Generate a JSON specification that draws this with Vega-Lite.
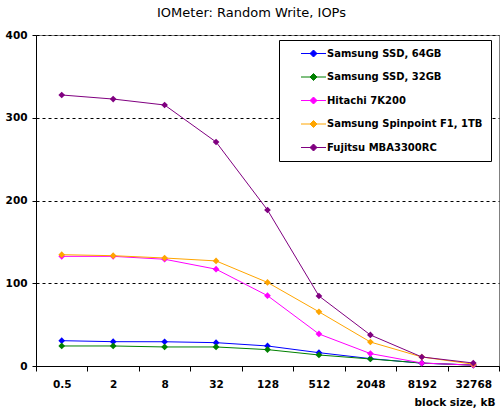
{
  "$schema": "https://vega.github.io/schema/vega-lite/v6.json",
  "width": 463,
  "height": 331,
  "autosize": {"type": "none"},
  "padding": {"left": 36, "top": 35, "right": 4, "bottom": 53},
  "background": "white",
  "title": {
    "text": "IOMeter: Random Write, IOPs",
    "font": "DejaVu Sans",
    "fontSize": 13,
    "fontWeight": "normal",
    "color": "black",
    "anchor": "middle",
    "dx": -16,
    "offset": 10
  },
  "config": {
    "view": {"stroke": "#808080", "strokeWidth": 1},
    "font": "DejaVu Sans"
  },
  "data": {
    "values": [
      {"size": "0.5", "drive": "Samsung SSD, 64GB", "iops": 30.6},
      {"size": "2", "drive": "Samsung SSD, 64GB", "iops": 29.4},
      {"size": "8", "drive": "Samsung SSD, 64GB", "iops": 29.3},
      {"size": "32", "drive": "Samsung SSD, 64GB", "iops": 28.2},
      {"size": "128", "drive": "Samsung SSD, 64GB", "iops": 24.2},
      {"size": "512", "drive": "Samsung SSD, 64GB", "iops": 16.1},
      {"size": "2048", "drive": "Samsung SSD, 64GB", "iops": 8.9},
      {"size": "8192", "drive": "Samsung SSD, 64GB", "iops": 3.4},
      {"size": "32768", "drive": "Samsung SSD, 64GB", "iops": 1.2},
      {"size": "0.5", "drive": "Samsung SSD, 32GB", "iops": 24.2},
      {"size": "2", "drive": "Samsung SSD, 32GB", "iops": 24.2},
      {"size": "8", "drive": "Samsung SSD, 32GB", "iops": 23.0},
      {"size": "32", "drive": "Samsung SSD, 32GB", "iops": 23.0},
      {"size": "128", "drive": "Samsung SSD, 32GB", "iops": 19.8},
      {"size": "512", "drive": "Samsung SSD, 32GB", "iops": 13.3},
      {"size": "2048", "drive": "Samsung SSD, 32GB", "iops": 8.5},
      {"size": "8192", "drive": "Samsung SSD, 32GB", "iops": 3.6},
      {"size": "32768", "drive": "Samsung SSD, 32GB", "iops": 1.0},
      {"size": "0.5", "drive": "Hitachi 7K200", "iops": 132.5},
      {"size": "2", "drive": "Hitachi 7K200", "iops": 132.5},
      {"size": "8", "drive": "Hitachi 7K200", "iops": 129.0},
      {"size": "32", "drive": "Hitachi 7K200", "iops": 117.0},
      {"size": "128", "drive": "Hitachi 7K200", "iops": 85.0},
      {"size": "512", "drive": "Hitachi 7K200", "iops": 38.7},
      {"size": "2048", "drive": "Hitachi 7K200", "iops": 15.0},
      {"size": "8192", "drive": "Hitachi 7K200", "iops": 3.6},
      {"size": "32768", "drive": "Hitachi 7K200", "iops": 1.0},
      {"size": "0.5", "drive": "Samsung Spinpoint F1, 1TB", "iops": 134.5},
      {"size": "2", "drive": "Samsung Spinpoint F1, 1TB", "iops": 133.3},
      {"size": "8", "drive": "Samsung Spinpoint F1, 1TB", "iops": 130.5},
      {"size": "32", "drive": "Samsung Spinpoint F1, 1TB", "iops": 127.0},
      {"size": "128", "drive": "Samsung Spinpoint F1, 1TB", "iops": 101.0},
      {"size": "512", "drive": "Samsung Spinpoint F1, 1TB", "iops": 65.5},
      {"size": "2048", "drive": "Samsung Spinpoint F1, 1TB", "iops": 29.0},
      {"size": "8192", "drive": "Samsung Spinpoint F1, 1TB", "iops": 10.9},
      {"size": "32768", "drive": "Samsung Spinpoint F1, 1TB", "iops": 2.2},
      {"size": "0.5", "drive": "Fujitsu MBA3300RC", "iops": 327.5},
      {"size": "2", "drive": "Fujitsu MBA3300RC", "iops": 322.6},
      {"size": "8", "drive": "Fujitsu MBA3300RC", "iops": 315.4},
      {"size": "32", "drive": "Fujitsu MBA3300RC", "iops": 270.7},
      {"size": "128", "drive": "Fujitsu MBA3300RC", "iops": 188.5},
      {"size": "512", "drive": "Fujitsu MBA3300RC", "iops": 84.6},
      {"size": "2048", "drive": "Fujitsu MBA3300RC", "iops": 37.5},
      {"size": "8192", "drive": "Fujitsu MBA3300RC", "iops": 10.9},
      {"size": "32768", "drive": "Fujitsu MBA3300RC", "iops": 3.6}
    ]
  },
  "encoding": {
    "x": {
      "field": "size",
      "type": "ordinal",
      "sort": null,
      "scale": {"type": "band", "paddingInner": 0, "paddingOuter": 0},
      "axis": {
        "title": "block size, kB",
        "titleFont": "DejaVu Sans",
        "titleFontSize": 10.5,
        "titleFontWeight": "bold",
        "titleColor": "black",
        "titleAnchor": "end",
        "titleAlign": "right",
        "titleX": 459,
        "titlePadding": 8,
        "labelFont": "DejaVu Sans",
        "labelFontSize": 10.5,
        "labelFontWeight": "bold",
        "labelColor": "black",
        "labelAngle": 0,
        "labelPadding": 8,
        "tickBand": "extent",
        "tickColor": "black",
        "tickSize": 5,
        "domainColor": "black",
        "grid": false
      }
    },
    "y": {
      "field": "iops",
      "type": "quantitative",
      "scale": {"domain": [0, 400], "nice": false},
      "axis": {
        "title": null,
        "values": [0, 100, 200, 300, 400],
        "labelFont": "DejaVu Sans",
        "labelFontSize": 10.5,
        "labelFontWeight": "bold",
        "labelColor": "black",
        "labelPadding": 5,
        "tickColor": "black",
        "tickSize": 4,
        "domainColor": "black",
        "grid": true,
        "gridColor": "black",
        "gridDash": [3, 3],
        "gridWidth": 1
      }
    },
    "color": {
      "field": "drive",
      "type": "nominal",
      "sort": ["Samsung SSD, 64GB", "Samsung SSD, 32GB", "Hitachi 7K200", "Samsung Spinpoint F1, 1TB", "Fujitsu MBA3300RC"],
      "scale": {
        "domain": ["Samsung SSD, 64GB", "Samsung SSD, 32GB", "Hitachi 7K200", "Samsung Spinpoint F1, 1TB", "Fujitsu MBA3300RC"],
        "range": ["#0000FF", "#008000", "#FF00FF", "#FFA500", "#800080"]
      },
      "legend": {
        "title": null,
        "orient": "none",
        "legendX": 243,
        "legendY": 5,
        "fillColor": "white",
        "strokeColor": "black",
        "padding": 8,
        "rowPadding": 12.5,
        "symbolOffset": 21,
        "symbolType": "M-2.5,0H2.5M-0.7,0L0,-0.7L0.7,0L0,0.7Z",
        "symbolSize": 100,
        "symbolStrokeWidth": 1,
        "labelFont": "DejaVu Sans",
        "labelFontSize": 10,
        "labelFontWeight": "bold",
        "labelColor": "black",
        "labelOffset": 8,
        "labelLimit": 300,
        "encode": {
          "symbols": {"update": {"fill": {"scale": "color", "field": "value"}}}
        }
      }
    }
  },
  "layer": [
    {"mark": {"type": "line", "strokeWidth": 1}},
    {"mark": {"type": "point", "shape": "diamond", "filled": true, "size": 45, "opacity": 1}}
  ]
}
